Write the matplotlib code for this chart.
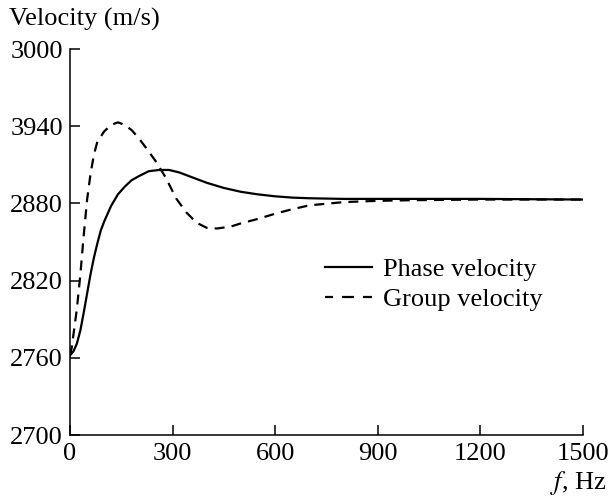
import matplotlib.pyplot as plt
from matplotlib.lines import Line2D

plt.rcParams['font.family'] = ['Liberation Serif', 'DejaVu Serif']
plt.rcParams['mathtext.fontset'] = 'stix'

# phase velocity, Hz -> m/s
f_phase = [0, 10, 20, 30, 40, 50, 60, 70, 80, 90, 100, 120, 140, 160, 180, 200,
           230, 260, 290, 320, 360, 400, 450, 500, 550, 600, 650, 700, 800, 900,
           1000, 1200, 1500]
v_phase = [2762, 2765, 2771, 2781, 2795, 2810, 2825, 2838, 2849, 2859, 2866,
           2878, 2887, 2893, 2898, 2901, 2905, 2906, 2906, 2904, 2900, 2896,
           2892, 2889, 2887, 2885.5, 2884.5, 2884, 2883.5, 2883.5, 2883.5,
           2883.5, 2883]

# group velocity
f_group = [0, 5, 10, 20, 30, 40, 50, 60, 70, 80, 100, 120, 140, 160, 180, 200,
           220, 250, 280, 310, 340, 370, 400, 430, 470, 500, 550, 600, 650, 700,
           800, 900, 1000, 1200, 1500]
v_group = [2762, 2768, 2778, 2798, 2824, 2855, 2883, 2903, 2918, 2928, 2936,
           2941, 2943, 2941, 2937, 2931, 2924, 2913, 2900, 2884, 2873, 2865,
           2861, 2860.5, 2862, 2864.5, 2868, 2872, 2875.5, 2878.5, 2881, 2882,
           2882.5, 2883, 2883]

yticks = [2700, 2760, 2820, 2880, 2940, 3000]
ytick_labels = ['2700', '2760', '2820', '2880', '3940', '3000']
xticks = [0, 300, 600, 900, 1200, 1500]

fs = 19
lw = 1.6

fig = plt.figure(figsize=(6.11, 4.98), dpi=100)
ax = fig.add_axes([0.1146, 0.1265, 0.8396, 0.7751])

ax.plot(f_phase, v_phase, color='black', linewidth=lw, label='Phase velocity')
ax.plot(f_group, v_group, color='black', linewidth=lw, dashes=(4.5, 3.2),
        label='Group velocity')

ax.set_xlim(0, 1500)
ax.set_ylim(2700, 3000)
ax.set_xticks(xticks)
ax.set_yticks(yticks)
ax.set_yticklabels(ytick_labels)
for s in ['top', 'right']:
    ax.spines[s].set_visible(False)
for s in ['left', 'bottom']:
    ax.spines[s].set_linewidth(1.1)
ax.tick_params(direction='in', length=7, width=1.1, labelsize=fs,
               colors='black')
ax.tick_params(axis='y', pad=5)
ax.tick_params(axis='x', pad=6)

# legend keys drawn by hand so the dash phase looks right
handles = [Line2D([], [], color='black', linewidth=lw),
           Line2D([], [], color='black', linewidth=lw,
                  linestyle=(1.8, (5.4, 4.05)))]
ax.legend(handles, ['Phase velocity', 'Group velocity'], loc='upper left',
          bbox_to_anchor=(0.497, 0.46), frameon=False, fontsize=fs,
          handlelength=1.78, handletextpad=0.42, labelspacing=0.25,
          borderpad=0, borderaxespad=0)

fig.text(0.015, 0.96, 'Velocity (m/s)', fontsize=fs, va='center', ha='left')
fig.text(0.992, 0.03, '$f$, Hz', fontsize=fs, va='center', ha='right')

fig.savefig('out.png', dpi=100)
